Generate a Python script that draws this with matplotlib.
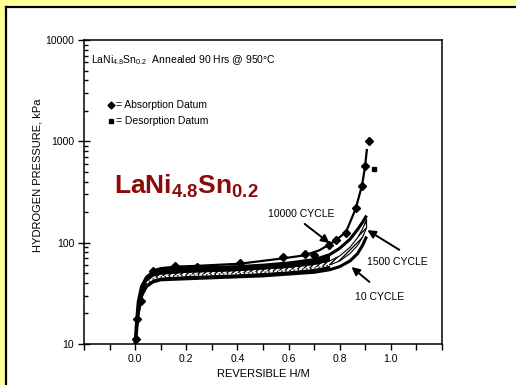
import numpy as np
import matplotlib
matplotlib.use("Agg")
import matplotlib.pyplot as plt
import matplotlib.ticker as mticker
from matplotlib.patches import Rectangle
from matplotlib.lines import Line2D

# ─── Fonts ────────────────────────────────────────────────────────────────────
NARROW = ["Liberation Sans Narrow", "Liberation Sans", "DejaVu Sans"]
matplotlib.rcParams.update({
    "font.family": NARROW,
    "mathtext.fontset": "custom",
    "mathtext.rm": "Liberation Sans",
    "mathtext.bf": "Liberation Sans:bold",
    "mathtext.default": "regular",
})

# ─── Data ─────────────────────────────────────────────────────────────────────
ABS_X = [0.003, 0.009, 0.023, 0.068, 0.156, 0.24, 0.41, 0.578, 0.663, 0.70,
         0.757, 0.786, 0.825, 0.862, 0.887, 0.899, 0.916]
ABS_P = [11.2, 17.7, 26.8, 53, 59, 58, 63, 72, 77, 75,
         95, 106, 124, 219, 365, 571, 1000]
DES_X = [0.936]
DES_P = [536]

ABS_LINE_X = [0.0, 0.003, 0.009, 0.023, 0.04, 0.068, 0.1, 0.156, 0.24, 0.41,
              0.578, 0.663, 0.72, 0.757, 0.786, 0.825, 0.862, 0.887, 0.899, 0.906]
ABS_LINE_P = [10, 11.2, 17.7, 26.8, 42, 53, 56, 58, 59, 62,
              70, 75, 84, 95, 106, 128, 215, 365, 560, 820]

CYC_X = [0.0, 0.005, 0.012, 0.025, 0.045, 0.07, 0.1, 0.2, 0.3, 0.4,
         0.5, 0.6, 0.7, 0.76, 0.8, 0.84, 0.87, 0.89, 0.905]
C10000_P = [10, 16, 26, 37, 46, 51, 54, 56, 57, 58,
            60, 63, 68, 76, 88, 108, 135, 160, 185]
C1500_HI = [10, 15, 24, 34, 42, 47, 49, 51, 52, 53,
            55, 57, 61, 66, 74, 90, 112, 138, 170]
C1500_LO = [10, 14, 22, 32, 40, 44, 46, 47.5, 48.5, 49.5,
            51, 53, 56, 60, 66, 78, 94, 114, 140]
C10_P = [10, 13, 20, 30, 37, 41, 43, 44, 45, 46,
         47, 49, 51, 54, 58, 66, 78, 95, 115]

X_TICKS = [0.0, 0.2, 0.4, 0.6, 0.8, 1.0]
Y_TICKS = [10, 100, 1000, 10000]

# ─── Figure / background ──────────────────────────────────────────────────────
W, H = 516, 385
fig = plt.figure(figsize=(W / 100, H / 100), dpi=100, facecolor="#FFFF99")
fig.patches.append(Rectangle((7 / W, 0), 1, 1 - 8 / H,
                             transform=fig.transFigure, facecolor="white",
                             edgecolor="none", zorder=-5))
fig.lines.append(Line2D([6 / W, 6 / W], [0, 1 - 7 / H], transform=fig.transFigure,
                        color="black", lw=1.6, zorder=-4))
fig.lines.append(Line2D([6 / W, 1], [1 - 7 / H, 1 - 7 / H],
                        transform=fig.transFigure, color="black", lw=1.6, zorder=-4))

ax = fig.add_axes([84 / W, 1 - 344 / H, (442 - 84) / W, (344 - 40) / H])
ax.set_facecolor("white")

# cycle curves: hatched 1500-cycle strip inside a dark band
ax.plot(CYC_X, C10000_P, color="black", lw=2.2, solid_capstyle="butt")
ax.plot(CYC_X, C10_P, color="black", lw=2.2, solid_capstyle="butt")
ax.fill_between(CYC_X, C1500_LO, C1500_HI, facecolor="white", edgecolor="black",
                hatch="//////", lw=0.8)
ax.fill_between(CYC_X[:14], C1500_HI[:14], C10000_P[:14], color="black", lw=0)
ax.fill_between(CYC_X[:14], C10_P[:14], C1500_LO[:14], color="black", lw=0)
ax.plot(CYC_X[4:14], C1500_LO[4:14], color="white", lw=1.0, ls=(0, (2, 1)))

# absorption isotherm
ax.plot(ABS_LINE_X, ABS_LINE_P, color="black", lw=1.6)
ax.plot(ABS_X, ABS_P, ls="none", marker="D", ms=4, color="black")
ax.plot(DES_X, DES_P, ls="none", marker="s", ms=3.5, color="black")

# ─── Axes formatting ──────────────────────────────────────────────────────────
ax.set_yscale("log")
ax.set_ylim(10, 10000)
ax.set_xlim(-0.2, 1.2)
ax.set_xticks(X_TICKS)
ax.set_xticklabels([f"{v:.1f}" for v in X_TICKS])
ax.xaxis.set_minor_locator(mticker.MultipleLocator(0.1))
ax.set_yticks(Y_TICKS)
ax.set_yticklabels([str(v) for v in Y_TICKS])
ax.tick_params(axis="x", which="both", direction="out", length=4, width=1,
               labelsize=7.5, pad=3)
ax.tick_params(axis="y", which="major", direction="inout", length=8, width=1,
               labelsize=7.5, pad=3)
ax.tick_params(axis="y", which="minor", direction="in", length=3, width=1)
for s in ax.spines.values():
    s.set_linewidth(1.1)

ax.set_xlabel("REVERSIBLE H/M", fontsize=8, labelpad=4)
ax.set_ylabel("HYDROGEN PRESSURE, kPa", fontsize=8)
ax.yaxis.set_label_coords(-0.117, 0.556)

# ─── Text ─────────────────────────────────────────────────────────────────────
ax.text(0.02, 0.955, r"LaNi$_{4.8}$Sn$_{0.2}$  Annealed 90 Hrs @ 950°C",
        transform=ax.transAxes, fontsize=7.5, va="top", ha="left")
ax.plot([0.075], [0.785], transform=ax.transAxes, marker="D", ms=3.5,
        color="black")
ax.text(0.088, 0.785, "= Absorption Datum", transform=ax.transAxes,
        fontsize=7.5, va="center")
ax.plot([0.075], [0.733], transform=ax.transAxes, marker="s", ms=2.8,
        color="black")
ax.text(0.088, 0.733, "= Desorption Datum", transform=ax.transAxes,
        fontsize=7.5, va="center")

ax.text(0.085, 0.52, r"LaNi$_{\mathbf{4.8}}$Sn$_{\mathbf{0.2}}$",
        transform=ax.transAxes, fontsize=19, fontweight="bold",
        color="#8B0A0A", family=["Liberation Sans", "DejaVu Sans"], va="center")

arrow = dict(arrowstyle="-|>", color="black", lw=1.4, mutation_scale=12,
             shrinkA=0, shrinkB=0)
ax.text(0.651, 190, "10000 CYCLE", fontsize=7.5, ha="center", va="center")
ax.annotate("", xy=(0.76, 99), xytext=(0.663, 153), arrowprops=arrow)
ax.text(1.025, 64, "1500 CYCLE", fontsize=7.5, ha="center", va="center")
ax.annotate("", xy=(0.908, 133), xytext=(1.033, 85), arrowprops=arrow)
ax.text(0.955, 29, "10 CYCLE", fontsize=7.5, ha="center", va="center")
ax.annotate("", xy=(0.846, 57.5), xytext=(0.916, 41), arrowprops=arrow)

fig.savefig("out.png", dpi=100, facecolor=fig.get_facecolor())
